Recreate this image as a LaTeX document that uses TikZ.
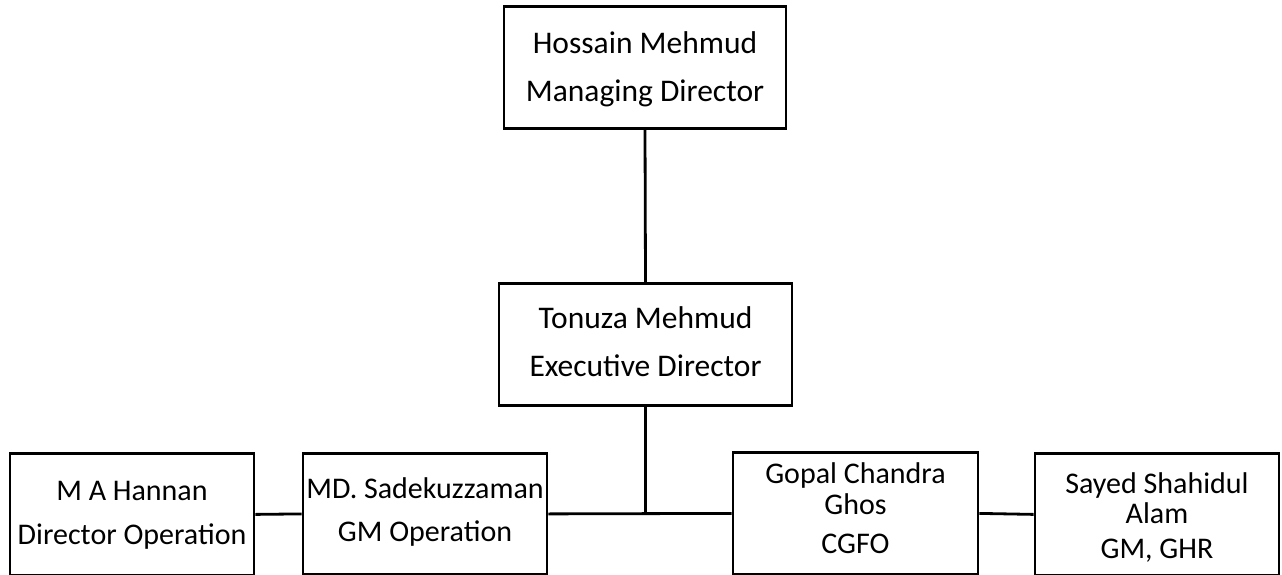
\documentclass[tikz,border=0pt]{standalone}
\usepackage{fontspec}
\setmainfont{Carlito}
\newcommand{\topgap}[1]{\rule{0pt}{#1pt}}
\newcommand{\botgap}[1]{\rule[-#1pt]{0pt}{#1pt}}
\begin{document}
\begin{tikzpicture}[x=1pt,y=-1pt,
  box/.style={draw,line width=2.8pt,rectangle,align=center,inner sep=0pt,anchor=north},
  topbox/.style={box,font=\fontsize{31.5}{48}\selectfont},
  lowbox/.style={box,font=\fontsize{30}{#1}\selectfont},
  conn/.style={line width=2.8pt}]
\useasboundingbox (0,0) rectangle (1282,575);
\node[topbox,minimum width=282pt] (md) at (645,5) {\topgap{47}Hossain Mehmud\\Managing Director\botgap{27}};
\node[topbox,minimum width=293pt] (ed) at (645.5,282) {\topgap{45}Tonuza Mehmud\\Executive Director\botgap{29}};
\node[lowbox=44,minimum width=244pt] (han) at (132,452) {\topgap{47}M A Hannan\\Director Operation\botgap{31}};
\node[lowbox=43,minimum width=244pt] (sad) at (425,452) {\topgap{45}MD. Sadekuzzaman\\GM Operation\botgap{33}};
\node[lowbox=31,minimum width=245pt] (gop) at (855.5,451) {\topgap{31}Gopal Chandra\\Ghos\\[8pt]CGFO\botgap{21}};
\node[lowbox=30,minimum width=244pt] (say) at (1157,452) {\topgap{40}Sayed Shahidul\\Alam\\[5pt]GM, GHR\botgap{17}};
\coordinate (J) at (ed.south |- sad.east);
\draw[conn] (md.south) -- (ed.north);
\draw[conn] (ed.south) -- (J);
\draw[conn] (sad.east) -- (gop.west);
\draw[conn] (han.east) -- (sad.west);
\draw[conn] (gop.east) -- (say.west);
\end{tikzpicture}
\end{document}
